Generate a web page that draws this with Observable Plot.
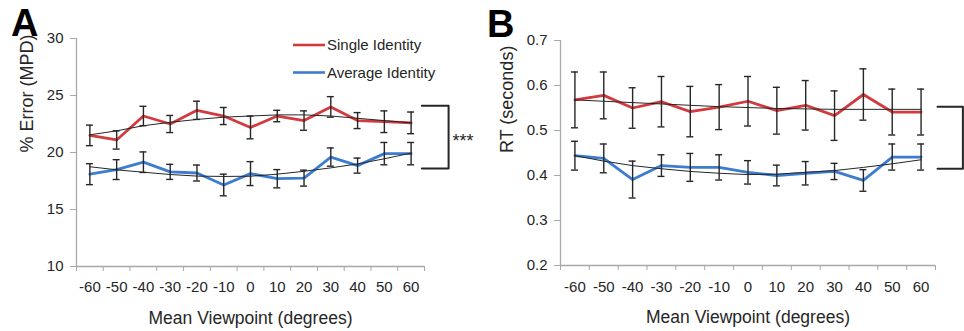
<!DOCTYPE html>
<html><head><meta charset="utf-8">
<script src="https://cdn.jsdelivr.net/npm/d3@7"></script>
<script src="https://cdn.jsdelivr.net/npm/@observablehq/plot@0.6"></script>
<style>
body{margin:0;background:#fff;}
#wrap{position:relative;width:964px;height:331px;overflow:hidden;font-family:"Liberation Sans",Arial,sans-serif;background:#fff;}
#a,#b{position:absolute;top:0;}
#a{left:0;} #b{left:480px;}
</style></head><body><div id="wrap"><div id="a"></div><div id="b"></div></div>
<script>
// ---- data ----
const viewpoints = [-60,-50,-40,-30,-20,-10,0,10,20,30,40,50,60];
const seriesNames = ["Single Identity","Average Identity"];

// Panel A: % Error (MPD)
const errSingle      = [21.5,21.1,23.2,22.5,23.7,23.2,22.2,23.2,22.8,24.0,22.8,22.7,22.6];
const errSingleSE    = [0.9,0.8,0.85,0.75,0.8,0.75,1.0,0.5,0.85,0.9,0.7,0.95,0.95];
const errSingleTrend = [21.55,21.9,22.35,22.65,22.9,23.1,23.2,23.3,23.3,23.2,23.0,22.8,22.6];
const errAverage      = [18.1,18.5,19.15,18.3,18.2,17.15,18.15,17.7,17.75,19.6,18.85,19.9,19.9];
const errAverageSE    = [0.92,0.87,0.9,0.66,0.7,0.95,1.05,0.8,0.7,0.8,0.66,0.98,0.98];
const errAverageTrend = [18.75,18.48,18.27,18.07,17.93,17.9,17.92,18.1,18.35,18.65,19.0,19.45,19.95];
const errTicks = [10,15,20,25,30];
const errBracket = {top:24.1, bottom:18.6, label:"***"};

// Panel B: RT (seconds)
const rtSingle      = [0.568,0.578,0.550,0.564,0.542,0.552,0.565,0.544,0.556,0.533,0.580,0.541,0.541];
const rtSingleSE    = [0.062,0.052,0.045,0.056,0.056,0.05,0.055,0.052,0.055,0.055,0.057,0.051,0.051];
const rtSingleTrend = [0.568,0.565,0.562,0.559,0.556,0.553,0.551,0.549,0.548,0.547,0.547,0.547,0.547];
const rtAverage      = [0.444,0.438,0.391,0.422,0.418,0.418,0.407,0.400,0.405,0.409,0.389,0.441,0.441];
const rtAverageSE    = [0.032,0.032,0.041,0.024,0.031,0.028,0.026,0.023,0.026,0.018,0.024,0.029,0.029];
const rtAverageTrend = [0.444,0.432,0.422,0.415,0.409,0.405,0.402,0.403,0.407,0.411,0.418,0.426,0.435];
const rtTicks = [0.2,0.3,0.4,0.5,0.6,0.7];
const rtBracket = {top:0.553, bottom:0.415, label:""};

// ---- styles ----
const RED = "#d23a3e", BLUE = "#3d7dcf", INK = "#262626", AXIS = "#a8a8a8";
const FONT = '"Liberation Sans", Arial, sans-serif';

function rows(v, se, tr) {
  return viewpoints.map((x, i) => ({x, y: v[i], lo: v[i] - se[i], hi: v[i] + se[i], t: tr[i]}));
}
const step = viewpoints[1] - viewpoints[0];
const xDomain = [viewpoints[0] - step/2, viewpoints[viewpoints.length-1] + step/2];
const bounds = viewpoints.map(v => v - step/2).concat([xDomain[1]]);

function seriesMarks(data, color) {
  return [
    Plot.line(data, {x: "x", y: "y", stroke: color, strokeWidth: 2.8}),
    Plot.ruleX(data, {x: "x", y1: "lo", y2: "hi", stroke: INK, strokeWidth: 1.4}),
    Plot.ruleY(data, {y: "hi", x1: "x", x2: "x", insetLeft: -3.5, insetRight: -3.5, stroke: INK, strokeWidth: 1.4}),
    Plot.ruleY(data, {y: "lo", x1: "x", x2: "x", insetLeft: -3.5, insetRight: -3.5, stroke: INK, strokeWidth: 1.4}),
    Plot.line(data, {x: "x", y: "t", stroke: INK, strokeWidth: 1})
  ];
}

function panel(o) {
  const last = viewpoints[viewpoints.length-1];
  const bx1 = last + o.bx[0], bx2 = last + o.bx[1];
  const br = [
    {x: bx1, y: o.bracket.top}, {x: bx2, y: o.bracket.top},
    {x: bx2, y: o.bracket.bottom}, {x: bx1, y: o.bracket.bottom}
  ];
  return Plot.plot({
    width: o.width, height: 331,
    marginLeft: o.ml, marginRight: o.mr, marginTop: o.mt, marginBottom: o.mb,
    x: {domain: xDomain, label: null},
    y: {domain: o.yDomain, label: null},
    style: {fontFamily: FONT, fontSize: "15px", color: INK, background: "white", overflow: "visible"},
    marks: [
      Plot.ruleX([xDomain[0]], {stroke: AXIS, strokeWidth: 1.3}),
      Plot.ruleY([o.yDomain[0]], {stroke: AXIS, strokeWidth: 1.3}),
      Plot.axisY({ticks: o.yTicks, tickSize: 6, tickPadding: 7, stroke: AXIS, tickFormat: o.yFormat, fontSize: 15, label: null}),
      Plot.axisX({ticks: bounds, tickSize: 5, tickFormat: () => "", stroke: AXIS, label: null}),
      Plot.axisX({ticks: viewpoints, tickSize: 0, tickPadding: o.xtp, fontSize: 15, tickFormat: d => String(d), label: null}),
      ...seriesMarks(o.s1, RED),
      ...seriesMarks(o.s2, BLUE),
      Plot.line(br, {x: "x", y: "y", stroke: INK, strokeWidth: 2, strokeLinejoin: "round", clip: false}),
      Plot.text([o.bracket.label], {x: bx2 + 1.5, y: (o.bracket.top + o.bracket.bottom)/2, textAnchor: "start", fontSize: 18, dy: 4}),
      Plot.text(["Mean Viewpoint (degrees)"], {frameAnchor: "bottom", dy: 52, fontSize: 17.5, lineAnchor: "middle"}),
      Plot.text([o.yTitle], {frameAnchor: "left", rotate: -90, dx: o.ytdx, fontSize: 18, lineAnchor: "middle"})
    ]
  });
}

const A = panel({
  width: 480, ml: 76, mr: 56, mt: 38, mb: 65, xtp: 15,
  yDomain: [10, 30], yTicks: errTicks, yFormat: d => String(d),
  s1: rows(errSingle, errSingleSE, errSingleTrend),
  s2: rows(errAverage, errAverageSE, errAverageTrend),
  bracket: errBracket, bx: [4, 14],
  yTitle: "% Error (MPD)", ytdx: -49
});
const B = panel({
  width: 484, ml: 80, mr: 29, mt: 40, mb: 66, xtp: 16,
  yDomain: [0.2, 0.7], yTicks: rtTicks, yFormat: d3.format(".1f"),
  s1: rows(rtSingle, rtSingleSE, rtSingleTrend),
  s2: rows(rtAverage, rtAverageSE, rtAverageTrend),
  bracket: rtBracket, bx: [5.7, 14.5],
  yTitle: "RT (seconds)", ytdx: -53
});
document.getElementById("a").appendChild(A);
document.getElementById("b").appendChild(B);

// panel letters
d3.select(A).append("text").attr("x", 11).attr("y", 36).attr("text-anchor", "start").attr("font-size", 38).attr("font-weight", "bold").attr("fill", "#000").attr("font-family", FONT).text("A");
d3.select(B).append("text").attr("x", 7).attr("y", 37).attr("text-anchor", "start").attr("font-size", 38).attr("font-weight", "bold").attr("fill", "#000").attr("font-family", FONT).text("B");

// legend (panel A)
const leg = d3.select(A).append("g").attr("font-family", FONT).attr("font-size", 15).attr("fill", INK).attr("text-anchor", "start");
[[seriesNames[0], RED, 45], [seriesNames[1], BLUE, 72.5]].forEach(([name, c, y]) => {
  leg.append("line").attr("x1", 293).attr("x2", 325).attr("y1", y).attr("y2", y).attr("stroke", c).attr("stroke-width", 2.6);
  leg.append("text").attr("x", 327).attr("y", y).attr("dy", "0.35em").text(name);
});
</script></body></html>
